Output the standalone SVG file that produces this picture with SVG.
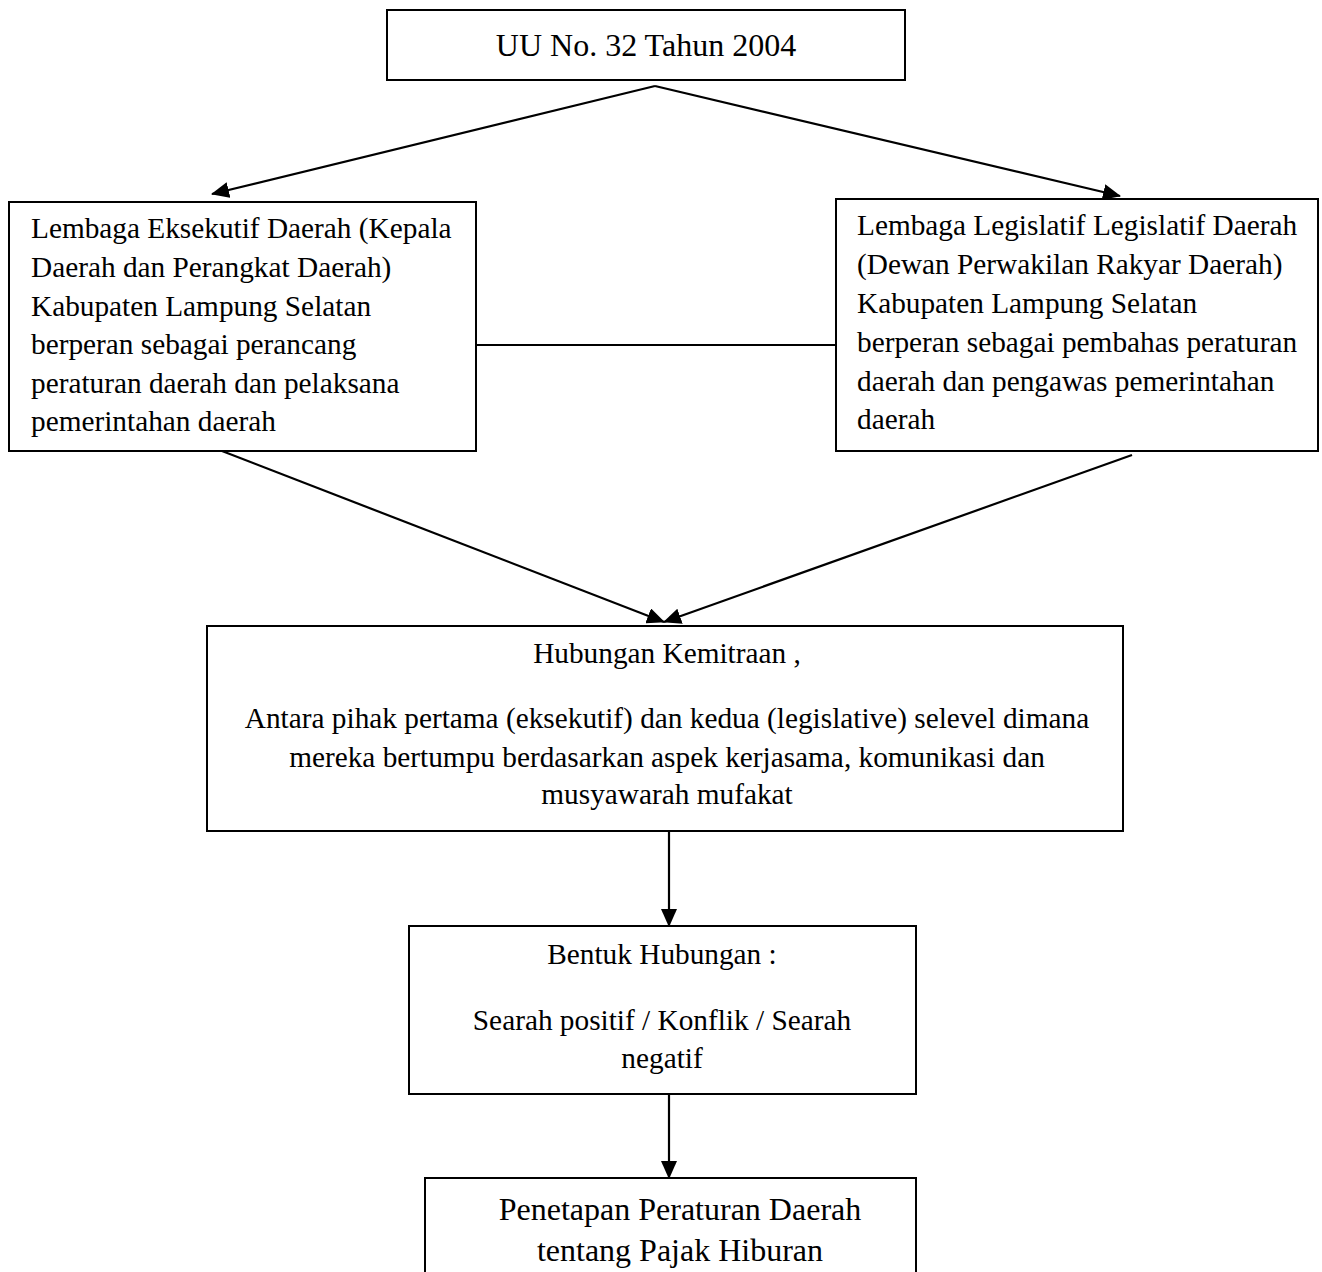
<svg xmlns="http://www.w3.org/2000/svg" width="1322" height="1272" viewBox="0 0 1322 1272">
<style>
.box{fill:#fff;stroke:#000;stroke-width:2}
.t{font-family:"Liberation Serif","Times New Roman",serif;font-size:29.3px;fill:#000}
.big{font-size:32px}
.c{text-anchor:middle}
.ln{stroke:#000;stroke-width:2.2;fill:none}
</style>
<defs>
<marker id="ah" markerUnits="userSpaceOnUse" markerWidth="18" markerHeight="16" refX="17" refY="8" orient="auto" viewBox="0 0 18 16">
<path d="M0,0 L18,8 L0,16 Z" fill="#000"/>
</marker>
</defs>
<rect width="1322" height="1272" fill="#fff"/>
<g id="connectors">
<line class="ln" x1="655" y1="86" x2="212" y2="194" marker-end="url(#ah)"/>
<line class="ln" x1="655" y1="86" x2="1120" y2="196" marker-end="url(#ah)"/>
<line class="ln" x1="476" y1="345" x2="836" y2="345"/>
<line class="ln" x1="222" y1="451" x2="664" y2="622" marker-end="url(#ah)"/>
<line class="ln" x1="1132" y1="455" x2="664" y2="622" marker-end="url(#ah)"/>
<line class="ln" x1="669" y1="832" x2="669" y2="926" marker-end="url(#ah)"/>
<line class="ln" x1="669" y1="1094" x2="669" y2="1178" marker-end="url(#ah)"/>
</g>
<g id="uu">
<rect class="box" x="387" y="10" width="518" height="70"/>
<text class="t big c" x="646" y="56">UU No. 32 Tahun 2004</text>
</g>
<g id="eksekutif">
<rect class="box" x="9" y="202" width="467" height="249"/>
<text class="t" x="31" y="238">Lembaga Eksekutif Daerah (Kepala</text>
<text class="t" x="31" y="277">Daerah dan Perangkat Daerah)</text>
<text class="t" x="31" y="316">Kabupaten Lampung Selatan</text>
<text class="t" x="31" y="354">berperan sebagai perancang</text>
<text class="t" x="31" y="393">peraturan daerah dan pelaksana</text>
<text class="t" x="31" y="431">pemerintahan daerah</text>
</g>
<g id="legislatif">
<rect class="box" x="836" y="199" width="482" height="252"/>
<text class="t" x="857" y="235">Lembaga Legislatif Legislatif Daerah</text>
<text class="t" x="857" y="274">(Dewan Perwakilan Rakyar Daerah)</text>
<text class="t" x="857" y="313">Kabupaten Lampung Selatan</text>
<text class="t" x="857" y="352">berperan sebagai pembahas peraturan</text>
<text class="t" x="857" y="391">daerah dan pengawas pemerintahan</text>
<text class="t" x="857" y="429">daerah</text>
</g>
<g id="kemitraan">
<rect class="box" x="207" y="626" width="916" height="205"/>
<text class="t c" x="667" y="663">Hubungan Kemitraan ,</text>
<text class="t c" x="667" y="728">Antara pihak pertama (eksekutif) dan kedua (legislative) selevel dimana</text>
<text class="t c" x="667" y="767">mereka bertumpu berdasarkan aspek kerjasama, komunikasi dan</text>
<text class="t c" x="667" y="804">musyawarah mufakat</text>
</g>
<g id="bentuk">
<rect class="box" x="409" y="926" width="507" height="168"/>
<text class="t c" x="662" y="964">Bentuk Hubungan :</text>
<text class="t c" x="662" y="1030">Searah positif / Konflik / Searah</text>
<text class="t c" x="662" y="1068">negatif</text>
</g>
<g id="penetapan">
<rect class="box" x="425" y="1178" width="491" height="120"/>
<text class="t big c" x="680" y="1220">Penetapan Peraturan Daerah</text>
<text class="t big c" x="680" y="1261">tentang Pajak Hiburan</text>
</g>
</svg>
